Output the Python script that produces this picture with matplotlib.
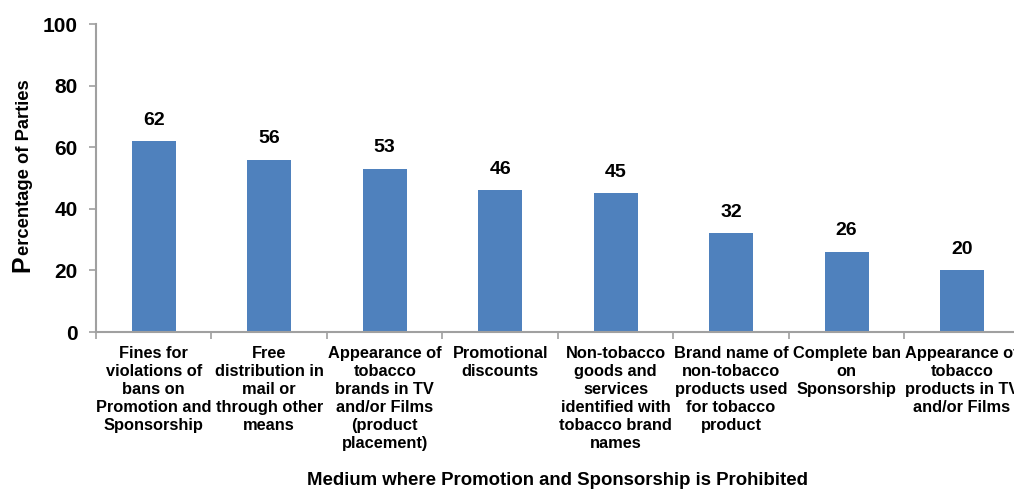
import matplotlib.pyplot as plt
import numpy as np

plt.rcParams['font.family'] = ['Liberation Sans', 'DejaVu Sans']

# data
categories = [
    'Fines for\nviolations of\nbans on\nPromotion and\nSponsorship',
    'Free\ndistribution in\nmail or\nthrough other\nmeans',
    'Appearance of\ntobacco\nbrands in TV\nand/or Films\n(product\nplacement)',
    'Promotional\ndiscounts',
    'Non-tobacco\ngoods and\nservices\nidentified with\ntobacco brand\nnames',
    'Brand name of\nnon-tobacco\nproducts used\nfor tobacco\nproduct',
    'Complete ban\non\nSponsorship',
    'Appearance of\ntobacco\nproducts in TV\nand/or Films',
]
values = [62, 56, 53, 46, 45, 32, 26, 20]
yticks = [0, 20, 40, 60, 80, 100]

fig = plt.figure(figsize=(10.14, 4.91), dpi=100)
ax = fig.add_axes([0.0947, 0.3238, 0.911, 0.627])

x = np.arange(len(values))
ax.bar(x, values, width=0.38, color='#4F81BD')

for xi, v in zip(x, values):
    ax.annotate(str(v), (xi, v), xytext=(0, 9), textcoords='offset points',
                ha='center', va='bottom', fontsize=14, fontweight='bold')

ax.set_xlim(-0.5, len(values) - 0.5)
ax.set_ylim(0, 100)
ax.set_yticks(yticks)
ax.set_yticklabels([str(t) for t in yticks], fontsize=15, fontweight='bold')

# category labels centred, ticks at boundaries
ax.set_xticks(x)
ax.set_xticklabels(categories, fontsize=11.8, fontweight='bold',
                   linespacing=1.25)
ax.tick_params(axis='x', which='major', length=0, pad=10)
ax.set_xticks(np.arange(len(values) + 1) - 0.5, minor=True)
ax.tick_params(axis='x', which='minor', length=5, color='#a0a0a0', width=1.2)
ax.tick_params(axis='y', length=5, color='#a0a0a0', width=1.2, pad=8)

for s in ['top', 'right']:
    ax.spines[s].set_visible(False)
for s in ['left', 'bottom']:
    ax.spines[s].set_color('#a0a0a0')
    ax.spines[s].set_linewidth(1.5)

ax.set_xlabel('Medium where Promotion and Sponsorship is Prohibited',
              fontsize=13.4, fontweight='bold', labelpad=15.5)

# y label with a larger first letter (pixel coords, origin bottom-left)
t1 = fig.text(29, 491 - 272, 'P', rotation=90, rotation_mode='anchor',
              ha='left', va='baseline', fontsize=18, fontweight='bold',
              transform=None)
fig.canvas.draw()
bb = t1.get_window_extent()
fig.text(29, 491 - 272 + bb.height, 'ercentage of Parties', rotation=90,
         rotation_mode='anchor', ha='left', va='baseline', fontsize=13.2,
         fontweight='bold', transform=None)

fig.savefig('out.png', dpi=100)
